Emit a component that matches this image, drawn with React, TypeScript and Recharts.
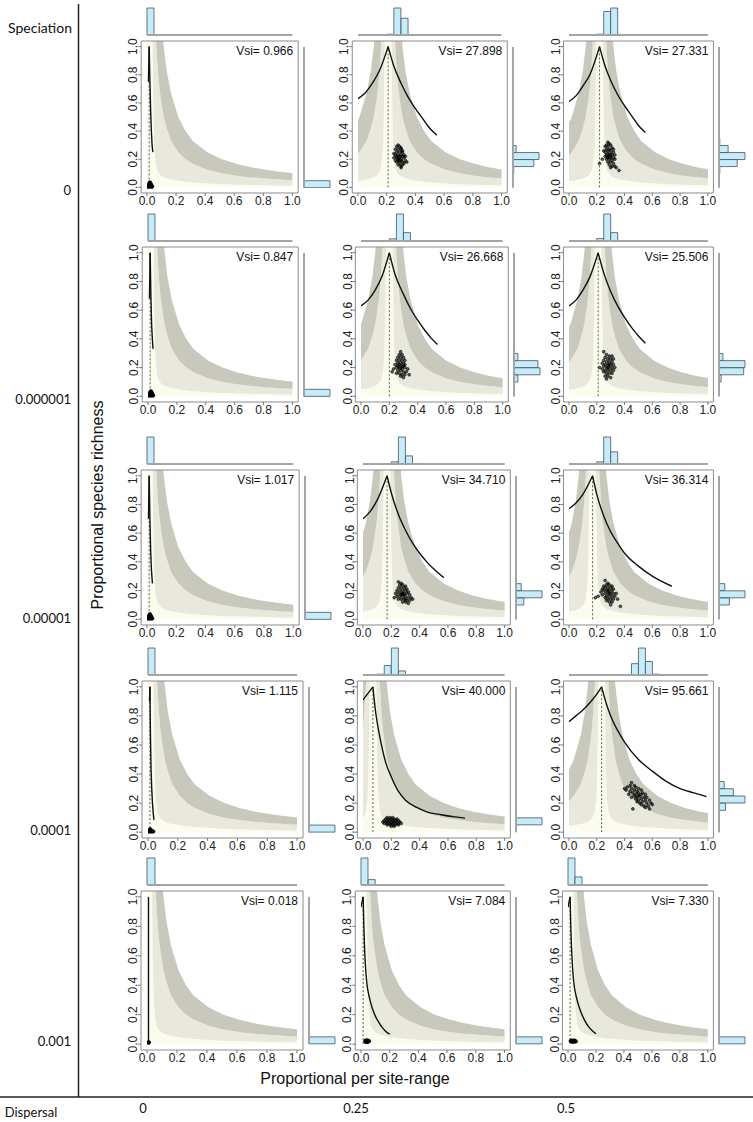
import React from 'react';
import { ComposedChart, BarChart, Bar, Area, Line, Scatter, XAxis, YAxis, ReferenceLine, ReferenceArea } from 'recharts';

const FONT = "'Liberation Sans', Arial, Helvetica, sans-serif";
const LABEL_FONT = "Lato, 'Open Sans', sans-serif";

// ---------- labels ----------
const ROW_LABELS = ['0', '0.000001', '0.00001', '0.0001', '0.001'];
const COL_LABELS = ['0', '0.25', '0.5'];
const X_TICKS = [0, 0.2, 0.4, 0.6, 0.8, 1];
const Y_TICKS = [0, 0.2, 0.4, 0.6, 0.8, 1];

const VSI = [
  ['0.966', '27.898', '27.331'],
  ['0.847', '26.668', '25.506'],
  ['1.017', '34.710', '36.314'],
  ['1.115', '40.000', '95.661'],
  ['0.018', '7.084', '7.330'],
];

// x position of the peak / dashed line
const PEAK_X = [
  [0.015, 0.21, 0.22],
  [0.015, 0.2, 0.21],
  [0.015, 0.17, 0.17],
  [0.013, 0.07, 0.235],
  [0.01, 0.015, 0.015],
];

// ---------- background bands (distance from peak -> y) ----------
const BAND_D = [0.005, 0.01, 0.015, 0.02, 0.025, 0.03, 0.035, 0.04, 0.05, 0.06, 0.07, 0.08, 0.1, 0.12, 0.15, 0.2, 0.25, 0.3, 0.4, 0.5, 0.6, 0.7, 0.8, 0.9, 1.0];
const BAND_UP = [20, 10, 6.7, 5, 4, 3.3, 2.9, 2.5, 2, 1.67, 1.43, 1.25, 1, 0.83, 0.67, 0.5, 0.4, 0.33, 0.25, 0.2, 0.167, 0.143, 0.125, 0.111, 0.1];
const BAND_MID = [10, 5, 3.3, 2.5, 2, 1.67, 1.43, 1.25, 1, 0.83, 0.71, 0.63, 0.5, 0.42, 0.33, 0.25, 0.2, 0.167, 0.125, 0.1, 0.083, 0.071, 0.063, 0.056, 0.05];
const BAND_LOW = [12, 6, 3, 1.6, 0.9, 0.5, 0.3, 0.22, 0.14, 0.11, 0.095, 0.085, 0.072, 0.064, 0.056, 0.047, 0.04, 0.035, 0.028, 0.023, 0.019, 0.017, 0.015, 0.013, 0.012];

// ---------- black curves ----------
const CURVE_LEFT = [
  [[[0.01, 0.75], [0.015, 1.0]], [[0, 0.63], [0.05, 0.67], [0.1, 0.74], [0.15, 0.83], [0.21, 1.0]], [[0, 0.61], [0.05, 0.65], [0.1, 0.72], [0.15, 0.8], [0.22, 1.0]]],
  [[[0.01, 0.68], [0.015, 1.0]], [[0, 0.63], [0.05, 0.67], [0.1, 0.74], [0.15, 0.84], [0.2, 1.0]], [[0, 0.63], [0.05, 0.67], [0.1, 0.74], [0.15, 0.83], [0.21, 1.0]]],
  [[[0.01, 0.7], [0.015, 1.0]], [[0, 0.7], [0.05, 0.75], [0.1, 0.83], [0.17, 1.0]], [[0, 0.77], [0.05, 0.81], [0.1, 0.87], [0.17, 1.0]]],
  [[[0.01, 0.9], [0.013, 1.0]], [[0, 0.91], [0.07, 1.0]], [[0, 0.76], [0.05, 0.8], [0.1, 0.84], [0.15, 0.89], [0.2, 0.95], [0.235, 1.0]]],
  [[], [[0, 0.93], [0.015, 1.0]], [[0, 0.93], [0.015, 1.0]]],
];
const CURVE_RIGHT = [
  [
    [[0.015, 1.0], [0.02, 0.75], [0.025, 0.55], [0.03, 0.4], [0.035, 0.3], [0.04, 0.25]],
    [[0.21, 1.0], [0.25, 0.86], [0.3, 0.74], [0.35, 0.64], [0.4, 0.56], [0.45, 0.49], [0.5, 0.42], [0.55, 0.37]],
    [[0.22, 1.0], [0.26, 0.86], [0.3, 0.76], [0.35, 0.66], [0.4, 0.58], [0.45, 0.51], [0.5, 0.44], [0.55, 0.39]],
  ],
  [
    [[0.015, 1.0], [0.02, 0.7], [0.025, 0.5], [0.03, 0.4], [0.035, 0.33]],
    [[0.2, 1.0], [0.24, 0.85], [0.3, 0.71], [0.35, 0.61], [0.4, 0.53], [0.45, 0.46], [0.5, 0.4], [0.54, 0.36]],
    [[0.21, 1.0], [0.25, 0.86], [0.3, 0.73], [0.35, 0.63], [0.4, 0.55], [0.45, 0.48], [0.5, 0.42], [0.55, 0.37]],
  ],
  [
    [[0.015, 1.0], [0.02, 0.7], [0.025, 0.48], [0.03, 0.35], [0.037, 0.25]],
    [[0.17, 1.0], [0.2, 0.88], [0.25, 0.73], [0.3, 0.62], [0.35, 0.53], [0.4, 0.46], [0.45, 0.4], [0.5, 0.35], [0.57, 0.29]],
    [[0.17, 1.0], [0.2, 0.87], [0.25, 0.72], [0.3, 0.61], [0.35, 0.53], [0.4, 0.46], [0.5, 0.37], [0.6, 0.3], [0.74, 0.23]],
  ],
  [
    [[0.013, 1.0], [0.016, 0.7], [0.02, 0.45], [0.025, 0.3], [0.03, 0.2], [0.035, 0.13], [0.04, 0.085]],
    [[0.07, 1.0], [0.09, 0.82], [0.11, 0.7], [0.13, 0.6], [0.16, 0.48], [0.2, 0.38], [0.25, 0.28], [0.3, 0.22], [0.38, 0.17], [0.45, 0.14], [0.55, 0.12], [0.65, 0.105], [0.72, 0.097]],
    [[0.235, 1.0], [0.27, 0.88], [0.3, 0.8], [0.35, 0.7], [0.4, 0.62], [0.5, 0.5], [0.6, 0.42], [0.7, 0.35], [0.8, 0.3], [0.9, 0.27], [0.99, 0.245]],
  ],
  [
    [[0.01, 1.0], [0.01, 0.01]],
    [[0.015, 1.0], [0.02, 0.8], [0.025, 0.65], [0.03, 0.55], [0.04, 0.42], [0.06, 0.31], [0.08, 0.24], [0.1, 0.19], [0.12, 0.155], [0.15, 0.11], [0.18, 0.08], [0.2, 0.068]],
    [[0.015, 1.0], [0.02, 0.8], [0.025, 0.66], [0.03, 0.56], [0.04, 0.43], [0.06, 0.32], [0.08, 0.25], [0.1, 0.2], [0.12, 0.16], [0.15, 0.115], [0.18, 0.085], [0.2, 0.07]],
  ],
];

// ---------- simulated points ----------
const CLOUD_C1 = [[0.005, 0.005], [0.015, 0.005], [0.025, 0.005], [0.035, 0.005], [0.01, 0.015], [0.02, 0.015], [0.03, 0.015], [0.015, 0.025], [0.025, 0.025], [0.02, 0.035]];
const CLOUD_R4C1 = [[0.005, 0.005], [0.015, 0.005], [0.025, 0.005], [0.035, 0.005], [0.01, 0.013], [0.02, 0.013], [0.015, 0.02]];
const CLOUD_R5C1 = [[0.01, 0.01], [0.012, 0.012]];
const CLOUD_R1C2 = [[0.27, 0.29], [0.28, 0.3], [0.29, 0.29], [0.3, 0.28], [0.26, 0.27], [0.28, 0.27], [0.3, 0.27], [0.31, 0.26], [0.27, 0.25], [0.29, 0.25], [0.31, 0.25], [0.25, 0.24], [0.26, 0.23], [0.28, 0.23], [0.3, 0.23], [0.32, 0.23], [0.27, 0.22], [0.29, 0.22], [0.31, 0.22], [0.33, 0.22], [0.25, 0.21], [0.27, 0.21], [0.28, 0.2], [0.3, 0.2], [0.32, 0.21], [0.26, 0.19], [0.28, 0.19], [0.3, 0.19], [0.31, 0.18], [0.33, 0.19], [0.27, 0.18], [0.29, 0.17], [0.31, 0.16], [0.28, 0.16], [0.3, 0.15], [0.32, 0.17], [0.34, 0.18], [0.29, 0.21], [0.29, 0.19], [0.3, 0.14]];
const CLOUD_R1C3 = [[0.28, 0.32], [0.29, 0.31], [0.27, 0.3], [0.3, 0.3], [0.26, 0.29], [0.28, 0.29], [0.31, 0.28], [0.27, 0.27], [0.29, 0.27], [0.32, 0.27], [0.25, 0.26], [0.28, 0.26], [0.3, 0.26], [0.26, 0.25], [0.28, 0.24], [0.3, 0.24], [0.32, 0.25], [0.27, 0.23], [0.29, 0.23], [0.31, 0.23], [0.33, 0.23], [0.26, 0.22], [0.28, 0.22], [0.3, 0.21], [0.32, 0.21], [0.27, 0.2], [0.29, 0.2], [0.31, 0.19], [0.33, 0.2], [0.28, 0.18], [0.3, 0.18], [0.32, 0.17], [0.29, 0.16], [0.31, 0.15], [0.33, 0.15], [0.3, 0.14], [0.34, 0.14], [0.36, 0.12], [0.22, 0.17], [0.24, 0.2], [0.28, 0.21], [0.3, 0.22]];
const CLOUD_R2C2 = [[0.28, 0.31], [0.27, 0.29], [0.29, 0.29], [0.26, 0.27], [0.28, 0.27], [0.3, 0.27], [0.25, 0.25], [0.27, 0.25], [0.29, 0.25], [0.31, 0.25], [0.26, 0.23], [0.28, 0.23], [0.3, 0.23], [0.24, 0.22], [0.27, 0.22], [0.29, 0.21], [0.31, 0.22], [0.25, 0.2], [0.27, 0.2], [0.29, 0.19], [0.31, 0.2], [0.33, 0.19], [0.23, 0.19], [0.26, 0.18], [0.28, 0.18], [0.3, 0.17], [0.32, 0.17], [0.25, 0.16], [0.27, 0.16], [0.29, 0.15], [0.31, 0.15], [0.28, 0.14], [0.3, 0.13], [0.34, 0.15], [0.22, 0.17], [0.28, 0.2], [0.26, 0.21], [0.3, 0.21]];
const CLOUD_R2C3 = [[0.25, 0.31], [0.27, 0.29], [0.29, 0.28], [0.31, 0.28], [0.26, 0.27], [0.28, 0.26], [0.3, 0.26], [0.32, 0.26], [0.25, 0.25], [0.27, 0.24], [0.29, 0.24], [0.31, 0.24], [0.24, 0.23], [0.26, 0.22], [0.28, 0.22], [0.3, 0.22], [0.32, 0.22], [0.25, 0.21], [0.27, 0.2], [0.29, 0.2], [0.31, 0.2], [0.33, 0.2], [0.24, 0.19], [0.26, 0.18], [0.28, 0.18], [0.3, 0.18], [0.32, 0.18], [0.25, 0.17], [0.27, 0.16], [0.29, 0.16], [0.31, 0.16], [0.26, 0.14], [0.28, 0.14], [0.3, 0.13], [0.27, 0.12], [0.22, 0.2], [0.28, 0.2], [0.29, 0.22]];
const CLOUD_R3C2 = [[0.25, 0.26], [0.27, 0.25], [0.26, 0.24], [0.28, 0.24], [0.3, 0.23], [0.25, 0.22], [0.27, 0.22], [0.29, 0.22], [0.31, 0.21], [0.24, 0.2], [0.26, 0.2], [0.28, 0.2], [0.3, 0.2], [0.32, 0.19], [0.23, 0.18], [0.25, 0.18], [0.27, 0.18], [0.29, 0.18], [0.31, 0.18], [0.33, 0.17], [0.24, 0.16], [0.26, 0.16], [0.28, 0.16], [0.3, 0.16], [0.32, 0.15], [0.34, 0.15], [0.25, 0.14], [0.27, 0.14], [0.29, 0.14], [0.31, 0.13], [0.33, 0.13], [0.28, 0.12], [0.3, 0.12], [0.32, 0.11], [0.35, 0.14], [0.22, 0.15], [0.28, 0.18], [0.27, 0.17], [0.29, 0.17], [0.3, 0.14]];
const CLOUD_R3C3 = [[0.26, 0.27], [0.28, 0.25], [0.27, 0.24], [0.29, 0.24], [0.25, 0.23], [0.31, 0.23], [0.26, 0.22], [0.28, 0.22], [0.3, 0.22], [0.24, 0.21], [0.32, 0.21], [0.25, 0.2], [0.27, 0.2], [0.29, 0.2], [0.31, 0.2], [0.23, 0.19], [0.26, 0.18], [0.28, 0.18], [0.3, 0.18], [0.32, 0.18], [0.34, 0.18], [0.24, 0.17], [0.27, 0.16], [0.29, 0.16], [0.31, 0.16], [0.33, 0.16], [0.26, 0.15], [0.28, 0.14], [0.3, 0.14], [0.32, 0.14], [0.35, 0.14], [0.27, 0.13], [0.29, 0.12], [0.31, 0.12], [0.3, 0.1], [0.37, 0.09], [0.19, 0.15], [0.21, 0.16], [0.28, 0.2], [0.29, 0.18]];
const CLOUD_R4C2 = [[0.17, 0.1], [0.19, 0.1], [0.21, 0.1], [0.16, 0.09], [0.18, 0.09], [0.2, 0.09], [0.22, 0.09], [0.24, 0.09], [0.15, 0.08], [0.17, 0.08], [0.19, 0.08], [0.21, 0.08], [0.23, 0.08], [0.25, 0.08], [0.14, 0.07], [0.16, 0.07], [0.18, 0.07], [0.2, 0.07], [0.22, 0.07], [0.24, 0.07], [0.26, 0.07], [0.15, 0.06], [0.17, 0.06], [0.19, 0.06], [0.21, 0.06], [0.23, 0.06], [0.25, 0.06], [0.27, 0.06], [0.17, 0.05], [0.19, 0.05], [0.21, 0.05], [0.23, 0.05], [0.25, 0.05], [0.2, 0.04], [0.22, 0.04]];
const CLOUD_R4C3 = [[0.45, 0.34], [0.44, 0.32], [0.47, 0.32], [0.42, 0.31], [0.45, 0.3], [0.48, 0.31], [0.5, 0.3], [0.41, 0.29], [0.44, 0.28], [0.47, 0.29], [0.49, 0.28], [0.52, 0.29], [0.46, 0.27], [0.48, 0.26], [0.5, 0.27], [0.53, 0.27], [0.55, 0.26], [0.43, 0.26], [0.47, 0.25], [0.49, 0.24], [0.51, 0.25], [0.54, 0.24], [0.56, 0.24], [0.45, 0.24], [0.48, 0.23], [0.5, 0.22], [0.52, 0.23], [0.55, 0.22], [0.58, 0.22], [0.49, 0.21], [0.51, 0.2], [0.53, 0.21], [0.56, 0.2], [0.59, 0.2], [0.52, 0.19], [0.54, 0.18], [0.57, 0.18], [0.6, 0.19], [0.55, 0.17], [0.58, 0.16], [0.46, 0.16], [0.4, 0.3], [0.5, 0.25], [0.52, 0.26]];
const CLOUD_R5C2 = [[0.03, 0.02], [0.04, 0.02], [0.05, 0.02], [0.035, 0.025], [0.045, 0.025], [0.035, 0.015], [0.045, 0.015], [0.055, 0.02]];
const CLOUD_R5C3 = [[0.02, 0.02], [0.03, 0.02], [0.04, 0.02], [0.05, 0.02], [0.025, 0.025], [0.045, 0.025], [0.035, 0.015], [0.055, 0.018]];

const CLOUDS = [
  [CLOUD_C1, CLOUD_R1C2, CLOUD_R1C3],
  [CLOUD_C1, CLOUD_R2C2, CLOUD_R2C3],
  [CLOUD_C1, CLOUD_R3C2, CLOUD_R3C3],
  [CLOUD_R4C1, CLOUD_R4C2, CLOUD_R4C3],
  [CLOUD_R5C1, CLOUD_R5C2, CLOUD_R5C3],
];

// ---------- marginal histograms (bin start, relative height %) ----------
const BIN_STARTS = [0, 0.05, 0.1, 0.15, 0.2, 0.25, 0.3, 0.35, 0.4, 0.45, 0.5, 0.55, 0.6, 0.65, 0.7, 0.75, 0.8, 0.85, 0.9, 0.95];
const TOP_HIST = [
  [[[0, 100]], [[0.2, 3], [0.25, 100], [0.3, 62], [0.35, 1]], [[0.2, 3], [0.25, 87], [0.3, 100], [0.35, 2]]],
  [[[0, 100]], [[0.2, 8], [0.25, 100], [0.3, 31], [0.35, 2]], [[0.2, 9], [0.25, 100], [0.3, 31], [0.35, 1]]],
  [[[0, 100]], [[0.2, 8], [0.25, 100], [0.3, 30], [0.35, 2]], [[0.2, 8], [0.25, 100], [0.3, 45], [0.35, 1]]],
  [[[0, 100]], [[0.1, 3], [0.15, 35], [0.2, 100], [0.25, 15]], [[0.4, 2], [0.45, 42], [0.5, 100], [0.55, 50], [0.6, 3]]],
  [[[0, 100]], [[0, 100], [0.05, 20]], [[0, 100], [0.05, 30]]],
];
const RIGHT_HIST = [
  [[[0, 100]], [[0.1, 3], [0.15, 80], [0.2, 100], [0.25, 12]], [[0.1, 3], [0.15, 70], [0.2, 100], [0.25, 35], [0.3, 3]]],
  [[[0, 100]], [[0.1, 15], [0.15, 100], [0.2, 92], [0.25, 15], [0.3, 2]], [[0.1, 8], [0.15, 95], [0.2, 100], [0.25, 15], [0.3, 2]]],
  [[[0, 100]], [[0.05, 2], [0.1, 30], [0.15, 100], [0.2, 20]], [[0.05, 2], [0.1, 40], [0.15, 100], [0.2, 22]]],
  [[[0, 100]], [[0.05, 100], [0.1, 2]], [[0.15, 25], [0.2, 100], [0.25, 55], [0.3, 20]]],
  [[[0, 100]], [[0, 100]], [[0, 100]]],
];

// ---------- layout ----------
const ROW_TOP = [41, 247, 470, 681, 891];
const ROW_BOTTOM = [193, 402, 625, 838, 1050];
const BOX_LEFT = [[141, 352, 563], [142, 355, 563], [141, 357, 563], [142, 357, 563], [141, 355, 562]];
const BOX_RIGHT = [[298, 507, 713], [298, 508, 713], [299, 510, 713], [303, 510, 713], [303, 510, 713]];

const C_CREAM = '#fcfcee';
const C_LIGHT = '#e8e8dc';
const C_DARK = '#c8c8bc';
const C_HIST = '#c7ecf9';
const C_HIST_STROKE = '#44535d';
const C_FRAME = '#8c8c8c';

function buildBands(x0: number) {
  const rows: any[] = [];
  for (let i = BAND_D.length - 1; i >= 0; i--) {
    const x = x0 - BAND_D[i];
    if (x > -0.3) rows.push({ x, cream: [0, BAND_LOW[i]], light: [BAND_LOW[i], BAND_MID[i]], dark: [BAND_MID[i], BAND_UP[i]] });
  }
  for (let i = 0; i < BAND_D.length; i++) {
    const x = x0 + BAND_D[i];
    if (x < 1.3) rows.push({ x, cream: [0, BAND_LOW[i]], light: [BAND_LOW[i], BAND_MID[i]], dark: [BAND_MID[i], BAND_UP[i]] });
  }
  return rows;
}

function histTable(pairs: number[][]) {
  return BIN_STARTS.map((b) => {
    const f = pairs.find((p) => Math.abs(p[0] - b) < 1e-6);
    return { bin: b, v: f ? f[1] : 0 };
  });
}

const toPts = (a: number[][]) => a.map(([x, y]) => ({ x, y }));

const dot = (r: number, filled: boolean) => (p: any) => (
  <circle cx={p.cx} cy={p.cy} r={r} fill={filled ? '#000' : 'rgba(0,0,0,0.6)'} stroke="#000" strokeWidth={0.6} />
);

function Panel({ r, c }: { r: number; c: number }) {
  const L = BOX_LEFT[r][c];
  const Rr = BOX_RIGHT[r][c];
  const T = ROW_TOP[r];
  const B = ROW_BOTTOM[r];
  const boxW = Rr - L;
  const boxH = B - T;
  const plotW = boxW / 1.08;
  const plotH = boxH / 1.08;
  const padX = (boxW * 0.04) / 1.08;
  const padY = (boxH * 0.04) / 1.08;
  const YAW = 30;
  const XAH = 24;
  const MT = 4;
  const MR = 14;
  const dataLeft = L + padX;
  const x0 = PEAK_X[r][c];
  const bands = buildBands(x0);
  const lineType = c === 0 ? 'linear' : 'monotone';
  const bx = YAW - padX;
  const yTick = (p: any) => {
    const cx = bx - 8;
    return (
      <g>
        <line x1={bx - 3} x2={bx} y1={p.y} y2={p.y} stroke="#777" />
        <text x={cx} y={p.y} transform={`rotate(-90 ${cx} ${p.y})`} textAnchor="middle" dy="0.35em" fontSize={12} fill="#222" fontFamily={FONT}>
          {Number(p.payload.value).toFixed(1)}
        </text>
      </g>
    );
  };
  const small = c === 0 || r === 4;
  const topData = histTable(TOP_HIST[r][c]);
  const rightData = histTable(RIGHT_HIST[r][c]).slice().reverse();
  const left = CURVE_LEFT[r][c];
  return (
    <>
      <div style={{ position: 'absolute', left: dataLeft - YAW, top: T - MT }}>
        <ComposedChart width={YAW + plotW + MR} height={MT + boxH + XAH} data={bands} margin={{ top: MT, right: MR, bottom: 0, left: 0 }}>
          <XAxis type="number" dataKey="x" domain={[0, 1]} allowDataOverflow ticks={X_TICKS} interval={0} height={XAH} tickSize={3} tickMargin={0} axisLine={false} tickLine={{ stroke: '#777' }} tick={{ fontSize: 12, fill: '#222', fontFamily: FONT }} tickFormatter={(v: number) => v.toFixed(1)} />
          <YAxis type="number" domain={[-0.04, 1.04]} allowDataOverflow ticks={Y_TICKS} interval={0} width={YAW} axisLine={false} tickLine={false} tick={yTick} />
          <Area type="linear" dataKey="cream" stroke="none" fill={C_CREAM} fillOpacity={1} isAnimationActive={false} dot={false} activeDot={false} />
          <Area type="linear" dataKey="light" stroke="none" fill={C_LIGHT} fillOpacity={1} isAnimationActive={false} dot={false} activeDot={false} />
          <Area type="linear" dataKey="dark" stroke="none" fill={C_DARK} fillOpacity={1} isAnimationActive={false} dot={false} activeDot={false} />
          <ReferenceLine segment={[{ x: x0, y: 0 }, { x: x0, y: 1 }]} stroke="#333" strokeDasharray="2 2" strokeWidth={0.8} ifOverflow="visible" />
          {left.length > 0 && (
            <Line data={toPts(left)} dataKey="y" type={lineType as any} stroke="#111" strokeWidth={1.4} dot={false} activeDot={false} isAnimationActive={false} />
          )}
          <Line data={toPts(CURVE_RIGHT[r][c])} dataKey="y" type={lineType as any} stroke="#111" strokeWidth={1.4} dot={false} activeDot={false} isAnimationActive={false} />
          <Scatter data={toPts(CLOUDS[r][c])} dataKey="y" shape={dot(small ? 1.8 : 1.4, small)} isAnimationActive={false} />
          <ReferenceArea
            x1={-0.04}
            x2={1.04}
            y1={-0.04}
            y2={1.04}
            ifOverflow="visible"
            fill="none"
            fillOpacity={0}
            stroke={C_FRAME}
            strokeWidth={1}
            label={{ value: `Vsi= ${VSI[r][c]}`, position: 'insideTopRight', offset: 5, fontSize: 12, fill: '#111', fontFamily: FONT }}
          />
        </ComposedChart>
      </div>
      <div style={{ position: 'absolute', left: dataLeft - 1, top: T - 6 - 27 - 1 }}>
        <BarChart width={plotW + 2} height={29} data={topData} margin={{ top: 1, right: 1, bottom: 1, left: 1 }} barCategoryGap={0} barGap={0}>
          <XAxis dataKey="bin" hide />
          <YAxis type="number" domain={[0, 100]} hide />
          <Bar dataKey="v" fill={C_HIST} stroke={C_HIST_STROKE} strokeWidth={0.8} isAnimationActive={false} />
          <ReferenceLine y={0} stroke="#a4a4a4" strokeWidth={2} />
        </BarChart>
      </div>
      <div style={{ position: 'absolute', left: Rr + 6 - 1, top: T + padY - 1 }}>
        <BarChart layout="vertical" width={28} height={plotH + 2} data={rightData} margin={{ top: 1, right: 1, bottom: 1, left: 1 }} barCategoryGap={0} barGap={0}>
          <XAxis type="number" domain={[0, 100]} hide />
          <YAxis type="category" dataKey="bin" hide />
          <Bar dataKey="v" fill={C_HIST} stroke={C_HIST_STROKE} strokeWidth={0.8} isAnimationActive={false} />
          <ReferenceLine x={0} stroke="#a4a4a4" strokeWidth={2} />
        </BarChart>
      </div>
    </>
  );
}

const ROW_LABEL_Y = [190, 399, 618, 830, 1041];
const COL_LABEL_X = [143, 356, 566];

export default function App() {
  const panels: any[] = [];
  for (let r = 0; r < 5; r++) for (let c = 0; c < 3; c++) panels.push(<Panel key={`${r}-${c}`} r={r} c={c} />);
  return (
    <div style={{ position: 'absolute', left: 0, top: 0, width: 753, height: 1122, background: '#fff', overflow: 'hidden' }}>
      {panels}
      <svg width={753} height={1122} style={{ position: 'absolute', left: 0, top: 0, pointerEvents: 'none' }}>
        <line x1={78.5} y1={4} x2={78.5} y2={1097} stroke="#222" strokeWidth={1.5} />
        <line x1={0} y1={1097} x2={753} y2={1097} stroke="#222" strokeWidth={1.5} />
        <text x={40} y={27} textAnchor="middle" dominantBaseline="central" fontSize={14} fontFamily={LABEL_FONT} fill="#111">Speciation</text>
        {ROW_LABELS.map((t, i) => (
          <text key={t} x={71} y={ROW_LABEL_Y[i]} textAnchor="end" dominantBaseline="central" fontSize={13} fontFamily={LABEL_FONT} fill="#111">{t}</text>
        ))}
        <text x={31} y={1112} textAnchor="middle" dominantBaseline="central" fontSize={13} fontFamily={LABEL_FONT} fill="#111">Dispersal</text>
        {COL_LABELS.map((t, i) => (
          <text key={t} x={COL_LABEL_X[i]} y={1108} textAnchor="middle" dominantBaseline="central" fontSize={13} fontFamily={LABEL_FONT} fill="#111">{t}</text>
        ))}
        <text x={355} y={1078} textAnchor="middle" dominantBaseline="central" fontSize={16} fontFamily={FONT} fill="#111">Proportional per site-range</text>
        <text x={97} y={505} transform="rotate(-90 97 505)" textAnchor="middle" dominantBaseline="central" fontSize={16} fontFamily={FONT} fill="#111">Proportional species richness</text>
      </svg>
    </div>
  );
}
